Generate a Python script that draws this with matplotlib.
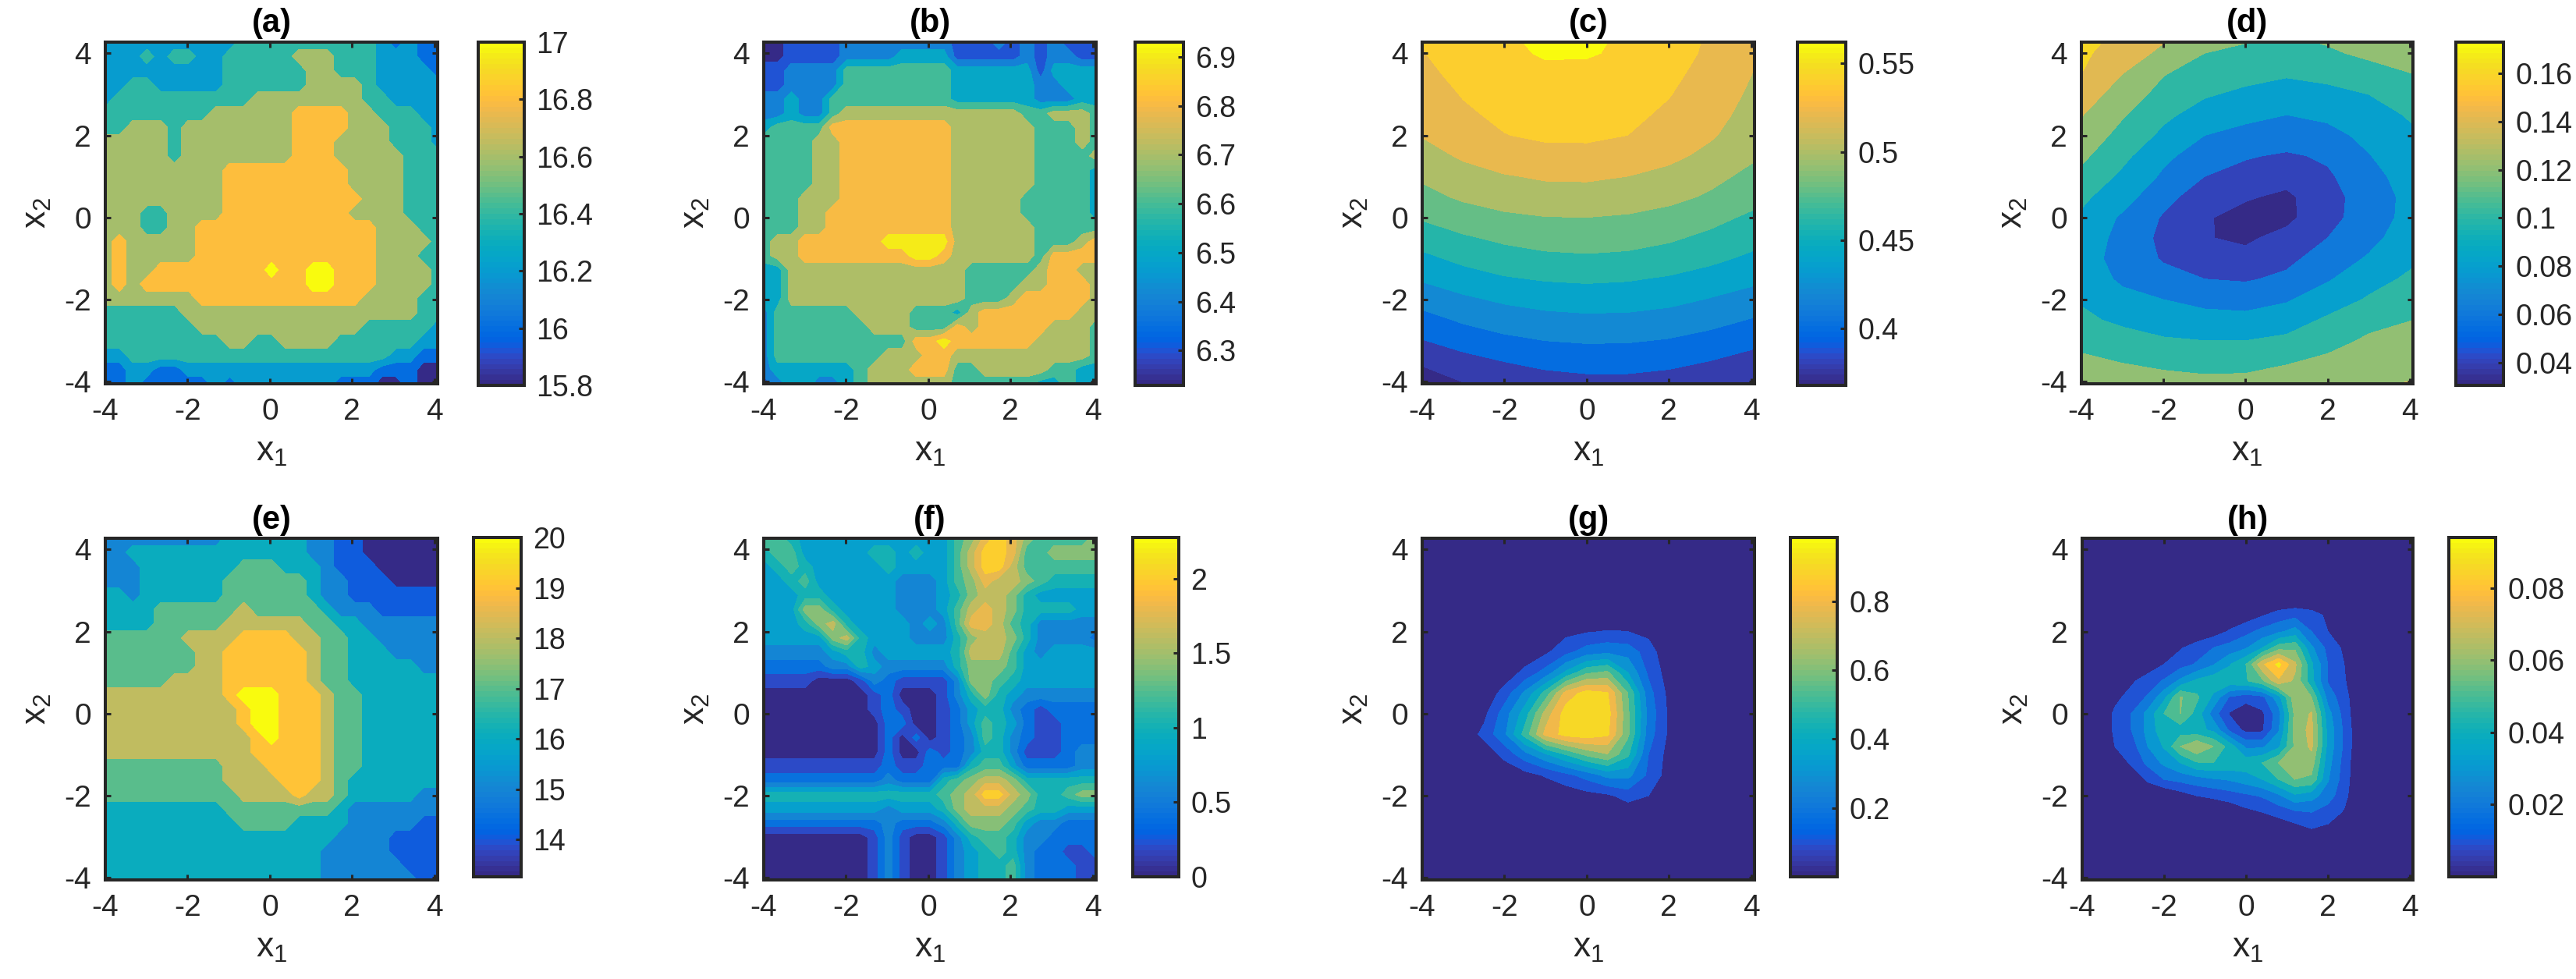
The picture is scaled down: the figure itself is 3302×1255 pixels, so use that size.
import numpy as np
import matplotlib
matplotlib.use("Agg")
import matplotlib.pyplot as plt
from matplotlib.cm import ScalarMappable
from matplotlib.colors import ListedColormap, Normalize

plt.rcParams['font.family'] = ['Liberation Sans', 'DejaVu Sans']
plt.rcParams['mathtext.fontset'] = 'custom'
plt.rcParams['mathtext.rm'] = 'Liberation Sans'
plt.rcParams['mathtext.default'] = 'regular'
plt.rcParams['axes.unicode_minus'] = False

# MATLAB parula, 64 steps
parula = ListedColormap([
    (0.2081, 0.1663, 0.5292), (0.2116, 0.1898, 0.5777), (0.2123, 0.2138, 0.6270), (0.2081, 0.2386, 0.6771),
    (0.1959, 0.2645, 0.7279), (0.1707, 0.2919, 0.7792), (0.1253, 0.3242, 0.8303), (0.0591, 0.3598, 0.8683),
    (0.0117, 0.3875, 0.8820), (0.0060, 0.4086, 0.8828), (0.0165, 0.4266, 0.8786), (0.0329, 0.4430, 0.8720),
    (0.0498, 0.4586, 0.8641), (0.0629, 0.4737, 0.8554), (0.0723, 0.4887, 0.8467), (0.0779, 0.5040, 0.8384),
    (0.0793, 0.5200, 0.8312), (0.0749, 0.5375, 0.8263), (0.0641, 0.5570, 0.8240), (0.0488, 0.5772, 0.8228),
    (0.0343, 0.5966, 0.8199), (0.0265, 0.6137, 0.8135), (0.0239, 0.6287, 0.8038), (0.0231, 0.6418, 0.7913),
    (0.0228, 0.6535, 0.7768), (0.0267, 0.6642, 0.7607), (0.0384, 0.6743, 0.7436), (0.0590, 0.6838, 0.7254),
    (0.0843, 0.6928, 0.7062), (0.1133, 0.7015, 0.6859), (0.1453, 0.7098, 0.6646), (0.1801, 0.7177, 0.6424),
    (0.2178, 0.7250, 0.6193), (0.2586, 0.7317, 0.5954), (0.3022, 0.7376, 0.5712), (0.3482, 0.7424, 0.5473),
    (0.3953, 0.7459, 0.5244), (0.4420, 0.7481, 0.5033), (0.4871, 0.7491, 0.4840), (0.5300, 0.7491, 0.4661),
    (0.5709, 0.7485, 0.4494), (0.6099, 0.7473, 0.4337), (0.6473, 0.7456, 0.4188), (0.6834, 0.7435, 0.4044),
    (0.7184, 0.7411, 0.3905), (0.7525, 0.7384, 0.3768), (0.7858, 0.7356, 0.3633), (0.8185, 0.7327, 0.3498),
    (0.8507, 0.7299, 0.3360), (0.8824, 0.7274, 0.3217), (0.9139, 0.7258, 0.3063), (0.9450, 0.7261, 0.2886),
    (0.9739, 0.7314, 0.2666), (0.9938, 0.7455, 0.2403), (0.9990, 0.7653, 0.2164), (0.9955, 0.7861, 0.1967),
    (0.9880, 0.8066, 0.1794), (0.9789, 0.8271, 0.1633), (0.9697, 0.8481, 0.1475), (0.9626, 0.8705, 0.1309),
    (0.9589, 0.8949, 0.1132), (0.9598, 0.9218, 0.0948), (0.9661, 0.9514, 0.0755), (0.9763, 0.9831, 0.0538),
])

# Panels a, b, e, f: which contour band each grid node falls in, top row first
a_bands = [
    "2222222222333333333321211", "2223233223333344433322211", "2222222223333334433322221",
    "2233222223333334444322222", "2333333333344444444332222", "3333333344444455554433322",
    "3344434444444455554443332", "4444434444444455544443332", "4444434444444455544444333",
    "4444444445555555554444333", "4444444445555555554444333", "4444444445555555555444333",
    "4443344445555555554444333", "4443344555555555555544433", "4544444555555555555544443",
    "4544444555555555555544433", "4544555555556556655544443", "4545555555555556655544443",
    "4444444555555555555444433", "3333334444444444444444433", "3333333444444444444333332",
    "3333333334433444433333322", "2233333333333333333332211", "1122112222222222222211100",
    "1121111121222222211100100",
]
b_bands = [
    "0011112222222211121212111", "0011112222333311111212211", "1122224444444433333313333",
    "1122224444444433333322333", "2232244444444433333322233", "2232245555555555555445554",
    "3444466666666655555544454", "4444556666666655555544454", "4444556666666655555544445",
    "4444556666666655555544443", "4444556666666655555544443", "4445556666666655555444443",
    "4445566666666655555444443", "4445566666666655555544444", "4556666667777755555544456",
    "4556666666677655555546666", "3355555555555554444456655", "3355555555555554444556665",
    "3355555555555554445666665", "2444444555544435666666655", "2444444455544465666665554",
    "2444444444466766666655554", "2444444445556655555555554", "2333333455566644555554433",
    "1233223455555544444433433",
]
e_bands = [
    "2222222223333332211000000", "2233333333333332211000000", "2223333333444333211100000",
    "2223333334444443221110000", "3323333334444443221111111", "3333444444544444322211111",
    "3333444445555554433222222", "4444445555666655443322222", "4444444556666665443332222",
    "4444444556666665443333322", "4444455556666665443333333", "5555555556777666544333333",
    "5555555555677666544333333", "5555555555677666544333333", "5555555555567666544333333",
    "5555555555566666544333333", "4444444445556666544333333", "4444444445555666543333333",
    "4444444444555565543333322", "3333333334444444432222222", "3333333333444433332222211",
    "3333333333333333322221111", "3333333333333333222221111", "3333333333333333222222111",
    "3333333333333333222222211",
]
f_bands = [
    "6654444444444467" + "9a97666" + "67", "5664444455454468aa9667777", "4565444445444468aa8666666",
    "4456444444333467988765555", "4445544444333457887544444", "4447754444333468987555544",
    "4445785444434369986533333", "4444478544433357887533332", "3333345534444458886434444",
    "2222233543333357776444444", "1111000132111137765444444", "0000000012000135754333333",
    "0000000012100124553212222", "0000000002200124654211222", "0000000002020123653211222",
    "0000000002002123553111233", "1111111112112225664222233", "2222222223222567887555555",
    "555555555555567" + "8aa8755677", "4444444443444578887655444", "2222222223222357776433222",
    "0000000013100135665332222", "0000000013100134565322112", "0000000013100134556322211",
    "0000000013100134556322212",
]

a_levels = [15.8, 16.0, 16.2, 16.4, 16.6, 16.8, 17.0]
b_levels = [6.23, 6.3, 6.4, 6.5, 6.6, 6.7, 6.8, 6.9]
e_levels = [13.26, 14, 15, 16, 17, 18, 19, 20]
f_levels = [0, 0.2, 0.4, 0.6, 0.8, 1.0, 1.2, 1.4, 1.6, 1.8, 2.0, 2.2]

# Panels c, d: values on a coarse grid, thousandths, top row first
smooth_x = [-4, -3, -2, -1, 0, 1, 2, 3, 4.1]
smooth_y = [4.3, 4, 3.5, 3, 2.5, 2, 1.5, 1, 0.5, 0, -0.5, -1, -1.5, -2, -2.5, -3, -3.5, -4.05]
c_values = [
    [540, 552.2, 557, 564, 563.5, 557, 550.1, 537.2, 520],
    [539, 550.6, 556, 561.9, 561.5, 557.1, 548.6, 536.3, 520],
    [535, 545.6, 552.5, 556, 555.8, 552, 544.6, 533, 519],
    [531, 541.1, 548, 551.6, 551.5, 547.9, 540.8, 529.9, 516],
    [527, 537, 543.7, 547.1, 547, 543.9, 536.9, 526.2, 513],
    [521, 532, 539.4, 543.2, 543.3, 539.9, 532.9, 522.3, 508],
    [512, 522.7, 529.9, 533.7, 534.2, 531.2, 524.7, 514.8, 502],
    [503, 512.4, 518.7, 522.1, 522.5, 519.9, 514.2, 505.6, 494],
    [494, 503, 509.3, 512.7, 513.1, 510.7, 505.4, 497.3, 486],
    [482, 490.4, 496.2, 499.4, 499.9, 497.8, 493, 485.7, 475.8],
    [469, 477.5, 483.6, 487, 488, 486.5, 482.5, 475.7, 467],
    [455, 464.8, 471.8, 476, 477.4, 476, 471.8, 464.8, 455],
    [442, 451, 457.8, 461.5, 463, 461.5, 457.5, 451, 444],
    [427, 436.2, 443, 447.2, 449, 448.2, 445, 438.8, 431],
    [413, 422.4, 429.3, 433.6, 435.5, 434.9, 431.8, 426.2, 418],
    [399, 408.5, 415.5, 420, 422, 421.5, 418.5, 413, 405],
    [383, 393, 400.3, 405.2, 407.5, 407.4, 404.8, 399.7, 392],
    [369, 379, 386.5, 391.5, 394, 394, 391.5, 386.5, 379],
]
d_values = [
    [168, 153, 141, 125, 121, 117, 122, 130, 132],
    [164, 149, 136, 120, 116, 112, 117, 124, 128],
    [160, 140, 121, 111, 106, 102, 105, 112, 120],
    [150, 131, 113, 102, 96, 92, 95, 100, 110],
    [141, 122, 104, 92, 84, 80, 84, 94, 102],
    [134, 113, 96, 80, 75, 72, 74, 85, 98],
    [124, 105, 84, 71, 62, 57, 63, 79, 94],
    [115, 96, 77, 60, 52, 47, 57, 73, 90],
    [104, 88, 66, 50, 42, 36, 53, 69, 87],
    [97, 77, 58, 42, 33, 35, 54, 69, 88],
    [91, 74, 55, 41, 37, 46, 60, 74, 92],
    [88, 73, 58, 50, 45, 55, 69, 82, 97],
    [90, 77, 67, 60, 58, 64, 78, 93, 104],
    [98, 85, 80, 75, 72, 78, 90, 102, 112],
    [104, 96, 91, 86, 86, 91, 103, 114, 120],
    [114, 108, 102, 100, 100, 104, 113, 123, 127],
    [124, 119, 116, 113, 113, 118, 124, 132, 135],
    [135, 130, 126, 125, 126, 130, 135, 138, 141],
]

# Panel g: hundredths, zero outside this window
g_x = [-4, -3, -2.5, -2, -1.5, -1, -0.5, 0, 0.5, 1, 1.5, 2, 2.5, 4.1]
g_y = [4.3, 2.5, 2, 1.5, 1, 0.5, 0, -0.5, -1, -1.5, -2, -2.5, -4.05]
g_values = [
    [0, 0, 0, 0, 0, 0, 0, 0, 0, 0, 0, 0, 0, 0],
    [0, 0, 0, 0, 0, 0, 0, 0, 1, 1, 0, 0, 0, 0],
    [0, 0, 0, 0, 0, 3, 7, 9, 10.5, 10, 7, 1, 0, 0],
    [0, 0, 0, 0, 2, 8, 17, 25, 28, 26, 15, 2, 0, 0],
    [0, 0, 0, 3, 13, 24, 42, 58, 62, 40, 18, 5, 0, 0],
    [0, 0, 2, 14, 32, 54, 84, 94, 91, 60, 24, 7, 0, 0],
    [0, 0, 7, 25, 45, 74, 95, 98.5, 95, 62, 27, 8, 0, 0],
    [0, 2, 13, 28, 54, 83, 94, 96, 92, 62, 25, 8, 0, 0],
    [0, 0, 3, 13, 26, 38, 50, 62, 69, 52, 20, 6, 0, 0],
    [0, 0, 0, 2, 6, 11, 17, 24, 33, 33, 18, 5, 0, 0],
    [0, 0, 0, 0, 0, 1, 3, 6, 8, 14, 10, 2, 0, 0],
    [0, 0, 0, 0, 0, 0, 0, 0, 0, 1, 0, 0, 0, 0],
    [0, 0, 0, 0, 0, 0, 0, 0, 0, 0, 0, 0, 0, 0],
]

# Panel h: thousandths
h_x = [-4, -3.6, -3.2, -2.8, -2.4, -2, -1.6, -1.2, -0.8, -0.4, 0, 0.4, 0.8, 1.2, 1.6, 2, 2.4, 2.8, 4.1]
h_y = [4.3, 2.8, 2.4, 2, 1.6, 1.2, 0.8, 0.4, 0, -0.4, -0.8, -1.2, -1.6, -2, -2.4, -2.8, -3.2, -4.05]
h_values = [
    [0, 0, 0, 0, 0, 0, 0, 0, 0, 0, 0, 0, 0, 0, 0, 0, 0, 0, 0],
    [0, 0, 0, 0, 0, 0, 0, 0, 0, 0, 0, 0, 0, 0, 0, 0, 0, 0, 0],
    [0, 0, 0, 0, 0, 0, 0, 0, 0, 2, 4, 9, 14, 17, 14, 8, 1, 0, 0],
    [0, 0, 0, 0, 0, 0, 0, 1, 5, 11, 17, 23, 28, 34, 20, 10, 1, 0, 0],
    [0, 0, 0, 0, 0, 2, 9, 15, 20, 24, 29, 40, 56, 58, 32, 17, 8, 0, 0],
    [0, 0, 0, 0, 3, 10, 16, 21, 29, 39, 50, 78, 93, 72, 42, 20, 10, 0, 0],
    [0, 0, 0, 8, 15, 21, 32, 42, 46, 47, 49, 58, 78, 68, 43, 19, 11, 0, 0],
    [0, 0, 7, 14, 21, 37, 61, 52, 38, 19, 14, 17, 36, 67, 60, 26, 14, 0, 0],
    [0, 0, 12, 20, 33, 50, 60, 46, 25, 9, 3, 8, 26, 63, 71, 34, 16, 0, 0],
    [0, 0, 12, 20, 33, 47, 45, 43, 38, 18, 7, 8, 29, 64, 73, 37, 18, 0, 0],
    [0, 0, 10, 15, 30, 41, 60, 69, 60, 46, 28, 28, 38, 62, 72, 37, 18, 0, 0],
    [0, 0, 0, 12, 22, 32, 40, 49, 50, 47, 46, 50, 60, 67, 65, 34, 16, 0, 0],
    [0, 0, 0, 0, 12, 20, 23, 26, 29, 31, 35, 40, 50, 60, 58, 31, 15, 0, 0],
    [0, 0, 0, 0, 0, 0, 5, 10, 12, 15, 18, 21, 28, 38, 34, 25, 13, 0, 0],
    [0, 0, 0, 0, 0, 0, 0, 0, 0, 2, 7, 10, 14, 18, 20, 15, 9, 0, 0],
    [0, 0, 0, 0, 0, 0, 0, 0, 0, 0, 0, 0, 2, 6, 10, 8, 3, 0, 0],
    [0, 0, 0, 0, 0, 0, 0, 0, 0, 0, 0, 0, 0, 0, 0, 0, 0, 0, 0],
    [0, 0, 0, 0, 0, 0, 0, 0, 0, 0, 0, 0, 0, 0, 0, 0, 0, 0, 0],
]

c_levels = [0.368, 0.38, 0.40, 0.42, 0.44, 0.46, 0.48, 0.50, 0.52, 0.54, 0.56]
d_levels = [0.0305, 0.04, 0.06, 0.08, 0.10, 0.12, 0.14, 0.16]
g_levels = [0, 0.1, 0.2, 0.3, 0.4, 0.5, 0.6, 0.7, 0.8, 0.9]
h_levels = [0, 0.01, 0.02, 0.03, 0.04, 0.05, 0.06, 0.07, 0.08, 0.09]

# colour limits of each bar
limits = {'a': (15.8, 17.0), 'b': (6.229, 6.93), 'c': (0.368, 0.562), 'd': (0.0305, 0.173),
          'e': (13.26, 20.0), 'f': (0, 2.275), 'g': (0, 0.985), 'h': (0, 0.094)}
bar_ticks = {'a': [15.8, 16, 16.2, 16.4, 16.6, 16.8, 17], 'b': [6.3, 6.4, 6.5, 6.6, 6.7, 6.8, 6.9],
             'c': [0.4, 0.45, 0.5, 0.55], 'd': [0.04, 0.06, 0.08, 0.1, 0.12, 0.14, 0.16],
             'e': [14, 15, 16, 17, 18, 19, 20], 'f': [0, 0.5, 1, 1.5, 2],
             'g': [0.2, 0.4, 0.6, 0.8], 'h': [0.02, 0.04, 0.06, 0.08]}

# pixel boxes: axes left/right, bar left/right
boxes = {'a': (133, 563, 611, 674), 'b': (977, 1407, 1453, 1519), 'c': (1821, 2251, 2302, 2368),
         'd': (2666, 3095, 3146, 3211), 'e': (133, 563, 605, 670), 'f': (977, 1407, 1450, 1513),
         'g': (1821, 2251, 2293, 2357), 'h': (2667, 3095, 3137, 3201)}

W, H = 3302, 1255
XLIM = (-4, 4.08)
YLIM = (-4.05, 4.27)
DARK = '#262626'
FS = 28


def from_bands(rows, levels):
    # each digit is a band; the node sits mid band
    steps = list(np.diff(levels)) + [levels[-1] - levels[-2]]
    table = np.array(levels) + np.array(steps) / 2
    idx = [[int(ch, 36) for ch in row] for row in rows]
    return table[np.array(idx)]


def pixel_axes(left, right, top, bottom):
    return fig.add_axes([(left + 2) / W, 1 - (bottom - 2) / H, (right - left - 4) / W, (bottom - top - 4) / H])


def draw_panel(name, x, y, z, levels, row_top, row_bottom, bar_top, bar_bottom):
    left, right, bar_left, bar_right = boxes[name]
    vmin, vmax = limits[name]
    norm = Normalize(vmin, vmax)
    ax = pixel_axes(left, right, row_top, row_bottom)
    edges = [min(levels[0], np.min(z)) - 1] + list(levels[1:]) + [max(levels[-1], np.max(z)) + 1]
    colors = [parula(norm(l)) for l in levels]
    ax.contourf(x, y, z, levels=edges, colors=colors)
    ax.set_xlim(*XLIM)
    ax.set_ylim(*YLIM)
    ax.set_xticks([-4, -2, 0, 2, 4])
    ax.set_yticks([-4, -2, 0, 2, 4])
    ax.tick_params(direction='in', top=True, right=True, length=5, width=2.2, color=DARK,
                   labelcolor=DARK, labelsize=FS, pad=13)
    for s in ax.spines.values():
        s.set_linewidth(2.9)
        s.set_color(DARK)
    ax.set_xlabel(r'$x_1$', fontsize=FS + 4, color=DARK, labelpad=9)
    ax.set_ylabel(r'$x_2$', fontsize=FS + 4, color=DARK, labelpad=10)
    ax.set_title('(%s)' % name, fontsize=FS + 2, fontweight='bold', color='black', pad=9)

    cax = pixel_axes(bar_left, bar_right, bar_top, bar_bottom)
    cb = fig.colorbar(ScalarMappable(norm=norm, cmap=parula), cax=cax)
    cb.set_ticks(bar_ticks[name])
    cb.set_ticklabels(['%g' % t for t in bar_ticks[name]])
    cax.tick_params(direction='in', right=True, length=5, width=2.2, color=DARK, labelcolor=DARK,
                    labelsize=FS - 1, pad=11)
    cb.outline.set_linewidth(2.9)
    cb.outline.set_edgecolor(DARK)


fig = plt.figure(figsize=(W / 100, H / 100), dpi=100)

band_x = np.linspace(XLIM[0], XLIM[1], 25)
band_y = np.linspace(YLIM[1], YLIM[0], 25)

top_row = (52, 494, 52, 496)
low_row = (688, 1130, 687, 1126)

draw_panel('a', band_x, band_y, from_bands(a_bands, a_levels), a_levels, *top_row)
draw_panel('b', band_x, band_y, from_bands(b_bands, b_levels), b_levels, *top_row)
draw_panel('c', smooth_x, smooth_y, np.array(c_values) / 1000, c_levels, *top_row)
draw_panel('d', smooth_x, smooth_y, np.array(d_values) / 1000, d_levels, *top_row)
draw_panel('e', band_x, band_y, from_bands(e_bands, e_levels), e_levels, *low_row)
draw_panel('f', band_x, band_y, from_bands(f_bands, f_levels), f_levels, *low_row)
draw_panel('g', g_x, g_y, np.array(g_values) / 100, g_levels, *low_row)
draw_panel('h', h_x, h_y, np.array(h_values) / 1000, h_levels, *low_row)

fig.savefig('out.png', dpi=100)
